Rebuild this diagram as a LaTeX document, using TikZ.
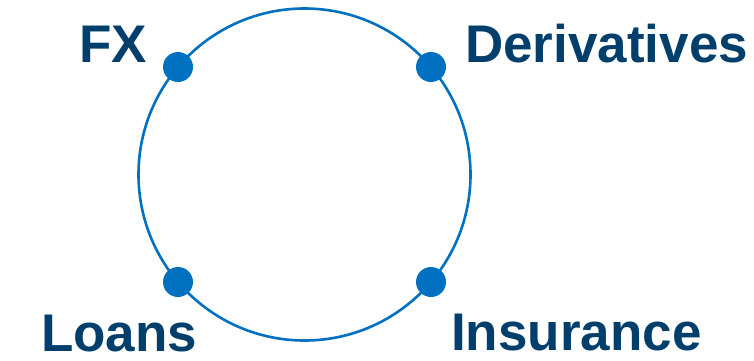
\documentclass[tikz,border=0pt]{standalone}
\usepackage{fontspec}
\setmainfont{Liberation Sans}
\definecolor{ringblue}{HTML}{0070C0}
\definecolor{labelnavy}{HTML}{003F6B}
\begin{document}
\begin{tikzpicture}[x=1pt,y=-1pt,
  ring/.style={draw=ringblue,line width=2.6pt},
  hub/.style={circle,fill=ringblue,inner sep=0pt,minimum size=30pt},
  tag/.style={text=labelnavy,font=\fontsize{53}{60}\selectfont\bfseries,inner sep=0pt,text depth=0pt,anchor=base west}]
\useasboundingbox (0,0) rectangle (754,360);
% the ring
\node (ring) [ring,circle,minimum size=332pt,inner sep=0pt] at (304.5,174.5) {};
% the four points on the ring
\node (fx)  [hub] at (178,67) {};
\node (der) [hub] at (431,67) {};
\node (loa) [hub] at (178,282) {};
\node (ins) [hub] at (431,282) {};
% their labels
\node (fxT)  [tag] at (79,62) {FX};
\node (derT) [tag] at (465,62) {Derivatives};
\node (loaT) [tag] at (41,351) {Loans};
\node (insT) [tag] at (451,350) {Insurance};
\end{tikzpicture}
\end{document}
